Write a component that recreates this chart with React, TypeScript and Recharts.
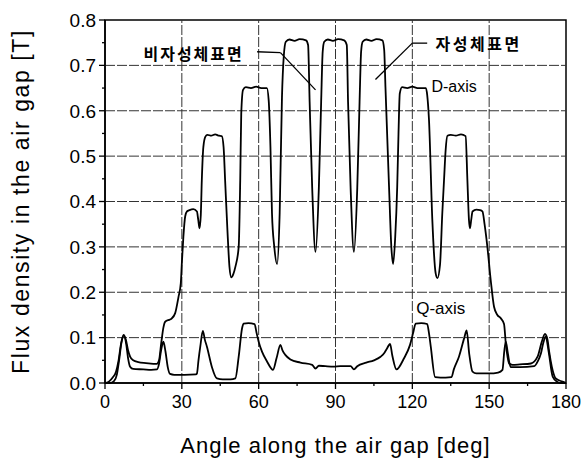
import React from 'react';
import { LineChart, Line, XAxis, YAxis, ReferenceLine, ReferenceArea, ReferenceDot, Label } from 'recharts';

// ---- tick labels ----
const xMajorTicks = [0, 30, 60, 90, 120, 150, 180];
const xMinorTicks = [15, 45, 75, 105, 135, 165];
const yMajorTicks = [0, 0.1, 0.2, 0.3, 0.4, 0.5, 0.6, 0.7, 0.8];
const yMinorTicks = [0.05, 0.15, 0.25, 0.35, 0.45, 0.55, 0.65, 0.75];
const xGrid = [30, 60, 90, 120, 150];
const yGrid = [0.1, 0.2, 0.3, 0.4, 0.5, 0.6, 0.7];

// ---- D-axis series ----
const dAngle = [0, 1.5, 3, 4.3, 5.3, 6.3, 7.3, 8.2, 9, 9.8, 11, 13, 16, 20.2, 21.1, 22, 22.8, 23.5, 25.4, 26, 27.4, 28.7, 29.6, 30, 30.6, 31.3, 32, 33, 34.5, 35.9, 36.4, 36.9, 37.4, 37.8, 38.4, 39.2, 40, 41.5, 43, 44.5, 45.6, 46.3, 46.9, 47.8, 48.6, 49.3, 50.1, 50.9, 52.2, 52.8, 53.2, 53.9, 55, 57, 59, 61, 63.2, 63.9, 64.6, 65.2, 66.1, 67.2, 68.2, 69.1, 69.8, 70.6, 72, 74, 76, 78.5, 79.3, 79.9, 80.9, 82.2, 83.5, 84.4, 85, 85.6, 87, 89, 91, 93.4, 94.4, 94.9, 95.9, 97.2, 98.5, 99.4, 100, 100.6, 102, 104, 106, 108.3, 109, 109.5, 110.9, 111.8, 112.5, 113.3, 114.1, 114.6, 115.1, 116, 118, 120, 122, 125.3, 125.8, 126.5, 127.8, 129.1, 129.8, 130.8, 131.7, 132.4, 133, 133.7, 135, 137, 139, 140.8, 141.5, 142.1, 142.5, 143, 143.5, 145, 146.5, 147.4, 148.2, 149.3, 150.6, 151.9, 153.2, 154.5, 155.8, 156.5, 157.8, 159.1, 162, 166.3, 168.9, 170.5, 171.8, 172.8, 173.4, 174.5, 176, 178.6, 180];
const dFlux = [0, 0.003, 0.012, 0.025, 0.05, 0.088, 0.106, 0.094, 0.072, 0.058, 0.05, 0.046, 0.044, 0.042, 0.05, 0.09, 0.122, 0.135, 0.14, 0.142, 0.154, 0.19, 0.22, 0.264, 0.322, 0.367, 0.378, 0.381, 0.383, 0.378, 0.36, 0.341, 0.37, 0.447, 0.52, 0.543, 0.547, 0.545, 0.548, 0.545, 0.544, 0.52, 0.447, 0.337, 0.256, 0.233, 0.24, 0.256, 0.3, 0.447, 0.594, 0.646, 0.652, 0.65, 0.653, 0.65, 0.65, 0.624, 0.52, 0.374, 0.3, 0.262, 0.374, 0.63, 0.72, 0.752, 0.757, 0.754, 0.758, 0.755, 0.745, 0.62, 0.43, 0.289, 0.43, 0.62, 0.73, 0.752, 0.757, 0.754, 0.758, 0.755, 0.745, 0.62, 0.43, 0.289, 0.43, 0.62, 0.73, 0.752, 0.757, 0.754, 0.758, 0.755, 0.735, 0.653, 0.433, 0.3, 0.262, 0.32, 0.433, 0.55, 0.638, 0.652, 0.65, 0.653, 0.65, 0.65, 0.635, 0.58, 0.36, 0.242, 0.231, 0.26, 0.374, 0.45, 0.513, 0.545, 0.547, 0.545, 0.548, 0.544, 0.447, 0.36, 0.341, 0.36, 0.378, 0.382, 0.381, 0.378, 0.35, 0.3, 0.227, 0.168, 0.15, 0.143, 0.13, 0.087, 0.043, 0.04, 0.041, 0.043, 0.058, 0.09, 0.108, 0.095, 0.07, 0.035, 0.01, 0.003, 0];

// ---- Q-axis series ----
const qAngle = [0, 2, 3.5, 4.6, 5.5, 6.4, 7.4, 8.3, 9, 9.8, 11, 15, 18, 20.3, 21, 22, 22.8, 23.6, 24.5, 25.4, 27, 31, 35.5, 35.9, 36.5, 37.2, 38.2, 39, 39.8, 41.7, 43.7, 46, 49, 50.9, 52.2, 53.5, 54.1, 56, 58.4, 59.2, 60, 61.3, 63.3, 65.6, 67, 68.5, 69.3, 70.4, 72.4, 76.3, 80.9, 82.2, 83.5, 86, 89.3, 91.9, 95.9, 97.2, 98.5, 102, 105, 107.6, 108.9, 110, 111.3, 112.2, 113.8, 116.7, 119.1, 120.3, 121.3, 123.5, 125.8, 126.5, 127.2, 128.9, 131, 133, 135.3, 136.2, 138.2, 140.3, 141.2, 142.2, 143.5, 145, 150, 153.5, 155.2, 155.9, 156.5, 157.3, 158.4, 162, 167.6, 169, 170.2, 171.2, 172.1, 173.2, 174.8, 176.5, 178, 180];
const qFlux = [0, 0, 0.004, 0.018, 0.05, 0.088, 0.105, 0.085, 0.055, 0.036, 0.031, 0.03, 0.029, 0.03, 0.04, 0.075, 0.091, 0.07, 0.035, 0.02, 0.018, 0.018, 0.019, 0.021, 0.05, 0.08, 0.115, 0.095, 0.08, 0.036, 0.01, 0.008, 0.008, 0.01, 0.058, 0.12, 0.131, 0.132, 0.13, 0.11, 0.091, 0.069, 0.047, 0.029, 0.055, 0.084, 0.072, 0.062, 0.052, 0.045, 0.04, 0.032, 0.038, 0.037, 0.036, 0.037, 0.037, 0.03, 0.037, 0.045, 0.05, 0.058, 0.065, 0.075, 0.086, 0.06, 0.03, 0.054, 0.084, 0.11, 0.131, 0.132, 0.13, 0.11, 0.08, 0.013, 0.012, 0.012, 0.013, 0.03, 0.058, 0.1, 0.116, 0.065, 0.025, 0.021, 0.021, 0.023, 0.029, 0.07, 0.091, 0.065, 0.035, 0.035, 0.037, 0.048, 0.065, 0.09, 0.102, 0.07, 0.014, 0.003, 0, 0];

const dPoints = dAngle.map((x, i) => ({ x, y: dFlux[i] }));
const qPoints = qAngle.map((x, i) => ({ x, y: qFlux[i] }));

const allXTicks = [...xMajorTicks, ...xMinorTicks].sort((a, b) => a - b);
const allYTicks = [...yMajorTicks, ...yMinorTicks].sort((a, b) => a - b);

const LATIN = '"Liberation Sans", Arial, Helvetica, sans-serif';
const KOREAN = '"Noto Sans CJK KR", "Noto Sans", sans-serif';

const XTick = (props: any) => {
  const { x, y, payload } = props;
  const v = payload.value;
  const major = xMajorTicks.includes(v);
  return (
    <g>
      <line x1={x} y1={y} x2={x} y2={y + (major ? 6 : 3)} stroke="#000" strokeWidth={1.3} />
      {major && (
        <text x={x} y={y + 25} textAnchor="middle" fontSize={18} fill="#000" fontFamily={LATIN}>
          {v}
        </text>
      )}
    </g>
  );
};

const YTick = (props: any) => {
  const { x, y, payload } = props;
  const v = payload.value;
  const major = yMajorTicks.some((t) => Math.abs(t - v) < 1e-9);
  return (
    <g>
      <line x1={x} y1={y} x2={x - (major ? 6 : 3)} y2={y} stroke="#000" strokeWidth={1.3} />
      {major && (
        <text x={x - 9} y={y + 6.8} textAnchor="end" fontSize={19} fill="#000" fontFamily={LATIN}>
          {v.toFixed(1)}
        </text>
      )}
    </g>
  );
};

export default function App() {
  return (
    <div style={{ position: 'absolute', left: 0, top: 0, background: '#fff' }}>
      <LineChart width={582} height={464} margin={{ top: 20, right: 16, bottom: 0, left: 10 }}>
        <XAxis
          dataKey="x"
          type="number"
          domain={[0, 180]}
          ticks={allXTicks}
          interval={0}
          tickSize={0}
          tickMargin={0}
          tickLine={false}
          tick={<XTick />}
          axisLine={{ stroke: '#000', strokeWidth: 1.5 }}
          height={81}
        >
          <Label
            value="Angle along the air gap [deg]"
            position="insideBottom"
            offset={11}
            fontSize={22}
            fill="#000"
            fontFamily={LATIN}
            letterSpacing={1}
          />
        </XAxis>
        <YAxis
          type="number"
          domain={[0, 0.8]}
          ticks={allYTicks}
          interval={0}
          tickSize={0}
          tickMargin={0}
          tickLine={false}
          tick={<YTick />}
          axisLine={{ stroke: '#000', strokeWidth: 1.5 }}
          width={95}
        >
          <Label
            value="Flux density in the air gap [T]"
            position="insideLeft"
            angle={-90}
            offset={11}
            fontSize={23}
            fill="#000"
            fontFamily={LATIN}
            letterSpacing={1.6}
            style={{ textAnchor: 'middle' }}
          />
        </YAxis>
        {xGrid.map((v) => (
          <ReferenceLine key={'gx' + v} x={v} stroke="#333" strokeWidth={1} strokeDasharray="10 2" />
        ))}
        {yGrid.map((v) => (
          <ReferenceLine key={'gy' + v} y={v} stroke="#333" strokeWidth={1} strokeDasharray="10 2" />
        ))}
        <ReferenceArea x1={0} x2={180} y1={0} y2={0.8} fill="none" fillOpacity={0} stroke="#000" strokeWidth={1.5} />
        <Line data={dPoints} dataKey="y" type="monotone" stroke="#000" strokeWidth={1.8} dot={false} activeDot={false} isAnimationActive={false} />
        <Line data={qPoints} dataKey="y" type="monotone" stroke="#000" strokeWidth={1.8} dot={false} activeDot={false} isAnimationActive={false} />
        {/* annotation leader lines */}
        <ReferenceLine segment={[{ x: 59.4, y: 0.73 }, { x: 68.5, y: 0.728 }]} stroke="#000" strokeWidth={1.3} />
        <ReferenceLine segment={[{ x: 68.5, y: 0.728 }, { x: 82.2, y: 0.646 }]} stroke="#000" strokeWidth={1.3} />
        <ReferenceLine segment={[{ x: 125.8, y: 0.749 }, { x: 120.0, y: 0.749 }]} stroke="#000" strokeWidth={1.3} />
        <ReferenceLine segment={[{ x: 120.0, y: 0.749 }, { x: 105.6, y: 0.669 }]} stroke="#000" strokeWidth={1.3} />
        <ReferenceDot x={34.6} y={0.724} r={0} fill="none" stroke="none"
          label={{ value: '비자성체표면', position: 'center', fontSize: 16, fill: '#000', fontFamily: KOREAN, fontWeight: 'bold', letterSpacing: 2 }} />
        <ReferenceDot x={145.9} y={0.747} r={0} fill="none" stroke="none"
          label={{ value: '자성체표면', position: 'center', fontSize: 16, fill: '#000', fontFamily: KOREAN, fontWeight: 'bold', letterSpacing: 2.5 }} />
        <ReferenceDot x={136.3} y={0.653} r={0} fill="none" stroke="none"
          label={{ value: 'D-axis', position: 'center', fontSize: 16, fill: '#000', fontFamily: LATIN }} />
        <ReferenceDot x={131.1} y={0.165} r={0} fill="none" stroke="none"
          label={{ value: 'Q-axis', position: 'center', fontSize: 17, fill: '#000', fontFamily: LATIN }} />
      </LineChart>
    </div>
  );
}
